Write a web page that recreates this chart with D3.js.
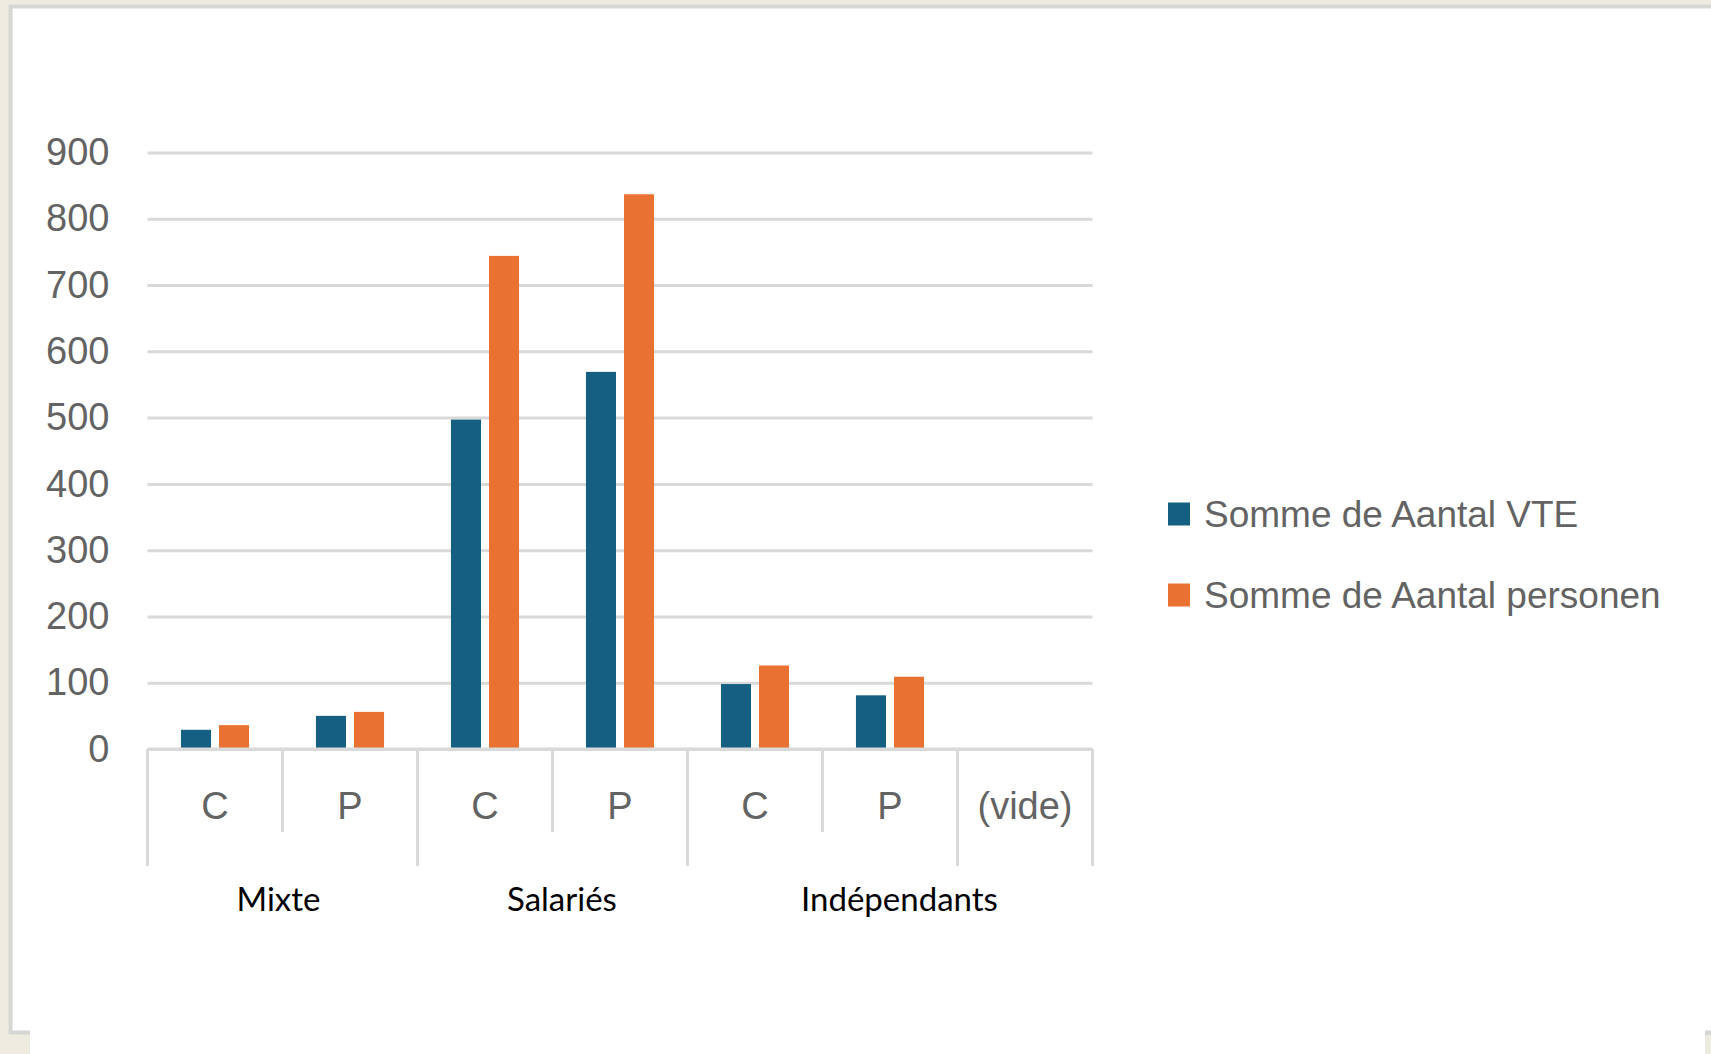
<!DOCTYPE html>
<html>
<head>
<meta charset="utf-8">
<script src="https://cdn.jsdelivr.net/npm/d3@7"></script>
<style>
  body { margin: 0; background: #eeece1; }
  svg { display: block; }
</style>
</head>
<body>
<div id="chart"></div>
<script>
// -------------------------------
// Data
// -------------------------------
const categories = ["C", "P", "C", "P", "C", "P", "(vide)"];
const vte = [29, 50, 497, 569, 98, 81, null];
const personen = [36, 56, 744, 837, 126, 109, null];
const seriesNames = ["Somme de Aantal VTE", "Somme de Aantal personen"];
const seriesColors = ["#156082", "#e97132"];
const yTicks = [0, 100, 200, 300, 400, 500, 600, 700, 800, 900];
// group separators (index where a new group starts) and the overlaid group labels
const groupBreaks = [0, 2, 4, 6, 7];
const groupLabels = ["Mixte", "Salariés", "Indépendants"];
const groupLabelAt = [0.97, 3.07, 5.57]; // in category units

// -------------------------------
// Layout
// -------------------------------
const width = 1711;
const height = 1054;
const plot = { left: 147.5, right: 1092.5, top: 152.5, bottom: 749 };

const svg = d3.select("#chart")
  .append("svg")
  .attr("width", width)
  .attr("height", height);

// window frame (screenshot look)
svg.append("rect")
  .attr("x", 0).attr("y", 0).attr("width", width).attr("height", height)
  .attr("fill", "#eeece1");
svg.append("rect")
  .attr("x", 30).attr("y", 1000).attr("width", 1675).attr("height", 54)
  .attr("fill", "#ffffff");
svg.append("rect")
  .attr("x", 10.5).attr("y", 6.5).attr("width", width).attr("height", 1026)
  .attr("fill", "#ffffff")
  .attr("stroke", "#d6d6d4")
  .attr("stroke-width", 4);
svg.append("rect")
  .attr("x", 30).attr("y", 1030).attr("width", 1675).attr("height", 24)
  .attr("fill", "#ffffff");
svg.append("rect")
  .attr("x", 1705).attr("y", 1031).attr("width", 6).attr("height", 4)
  .attr("fill", "#d6d6d4");

// -------------------------------
// Scales
// -------------------------------
const x0 = d3.scaleBand()
  .domain(d3.range(categories.length))
  .range([plot.left, plot.right])
  .padding(0);

const x1 = d3.scaleBand()
  .domain([0, 1])
  .range([0, x0.bandwidth()])
  .paddingInner(0.21)
  .paddingOuter(0.88);

const y = d3.scaleLinear()
  .domain([0, 900])
  .range([plot.bottom, plot.top]);

// -------------------------------
// Gridlines + y axis
// -------------------------------
const yAxis = svg.append("g")
  .attr("transform", `translate(${plot.left},0)`)
  .call(d3.axisLeft(y)
    .tickValues(yTicks)
    .tickSize(-(plot.right - plot.left))
    .tickPadding(38));

yAxis.select(".domain").remove();
yAxis.selectAll(".tick line")
  .attr("stroke", "#d9d9d9")
  .attr("stroke-width", 3);
yAxis.selectAll(".tick text")
  .attr("fill", "#636363")
  .attr("font-family", "'Liberation Sans', Arial, sans-serif")
  .attr("font-size", 38);

// -------------------------------
// Bars
// -------------------------------
const series = [vte, personen];
series.forEach((values, s) => {
  svg.append("g")
    .selectAll("rect")
    .data(values.map((v, i) => ({ i, v })).filter((d) => d.v != null))
    .join("rect")
    .attr("x", (d) => x0(d.i) + x1(s))
    .attr("y", (d) => y(d.v))
    .attr("width", x1.bandwidth())
    .attr("height", (d) => y(0) - y(d.v))
    .attr("fill", seriesColors[s]);
});

// -------------------------------
// Category axis (multi-level)
// -------------------------------
const catAxis = svg.append("g");
catAxis.append("line")
  .attr("x1", plot.left).attr("x2", plot.right)
  .attr("y1", plot.bottom).attr("y2", plot.bottom)
  .attr("stroke", "#d9d9d9").attr("stroke-width", 3);

d3.range(categories.length + 1).forEach((i) => {
  const xPos = i < categories.length ? x0(i) : plot.right;
  const isBreak = groupBreaks.includes(i);
  catAxis.append("line")
    .attr("x1", xPos).attr("x2", xPos)
    .attr("y1", plot.bottom).attr("y2", isBreak ? 866 : 832)
    .attr("stroke", "#d9d9d9").attr("stroke-width", 3);
});

catAxis.selectAll("text.cat")
  .data(categories)
  .join("text")
  .attr("class", "cat")
  .attr("x", (d, i) => x0(i) + x0.bandwidth() / 2)
  .attr("y", 806)
  .attr("dy", "0.35em")
  .attr("text-anchor", "middle")
  .attr("fill", "#636363")
  .attr("font-family", "'Liberation Sans', Arial, sans-serif")
  .attr("font-size", 38)
  .text((d) => d);

catAxis.selectAll("text.group")
  .data(groupLabels)
  .join("text")
  .attr("class", "group")
  .attr("x", (d, i) => plot.left + groupLabelAt[i] * x0.bandwidth())
  .attr("y", 911)
  .attr("text-anchor", "middle")
  .attr("fill", "#000000")
  .attr("font-family", "Lato, 'Open Sans', sans-serif")
  .attr("font-size", 33)
  .text((d) => d);

// -------------------------------
// Legend
// -------------------------------
const legend = svg.append("g")
  .attr("transform", "translate(1168,514)");

seriesNames.forEach((name, i) => {
  const row = legend.append("g").attr("transform", `translate(0,${i * 81})`);
  row.append("rect")
    .attr("x", 0).attr("y", -11.5)
    .attr("width", 22).attr("height", 23)
    .attr("fill", seriesColors[i]);
  row.append("text")
    .attr("x", 36)
    .attr("y", 0)
    .attr("dy", "0.35em")
    .attr("fill", "#636363")
    .attr("font-family", "'Liberation Sans', Arial, sans-serif")
    .attr("font-size", 37)
    .text(name);
});
</script>
</body>
</html>
